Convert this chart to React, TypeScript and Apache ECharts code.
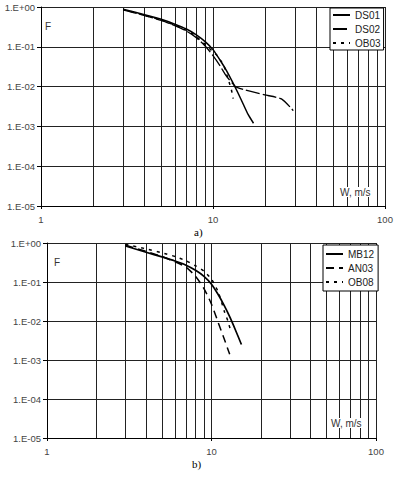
import React, { useEffect, useRef } from 'react';
import * as echarts from 'echarts';

// ---- Data ----
// Chart a)
const W_DS01 = [3, 4, 5, 6, 7, 8, 9, 10, 11, 12, 13, 14, 15, 16, 17.2];
const F_DS01 = [0.88, 0.64, 0.49, 0.37, 0.28, 0.2, 0.135, 0.085, 0.046, 0.025, 0.013, 0.0068, 0.0036, 0.002, 0.0012];

const W_DS02 = [3, 4, 5, 6, 7, 8, 9, 10, 11, 12, 13, 13.5, 15.4, 20, 25, 29.3];
const F_DS02 = [0.85, 0.61, 0.46, 0.34, 0.25, 0.17, 0.105, 0.06, 0.033, 0.018, 0.012, 0.01, 0.0082, 0.0062, 0.0049, 0.0025];

const W_OB03 = [3, 4, 5, 6, 7, 8, 9, 10, 10.5, 11.5, 12.3, 12.8, 13.1];
const F_OB03 = [0.87, 0.62, 0.47, 0.35, 0.26, 0.18, 0.115, 0.075, 0.062, 0.035, 0.0146, 0.0082, 0.005];

// Chart b)
const W_MB12 = [3, 4, 5, 6, 7, 8, 9, 10, 11, 12, 13, 14, 15.2];
const F_MB12 = [0.84, 0.58, 0.44, 0.345, 0.27, 0.2, 0.14, 0.088, 0.047, 0.024, 0.012, 0.0058, 0.0025];

const W_AN03 = [3, 4, 5, 6, 7, 8, 9, 10, 11, 12, 12.9];
const F_AN03 = [0.88, 0.61, 0.45, 0.33, 0.24, 0.14, 0.068, 0.027, 0.009, 0.0033, 0.0014];

const W_OB08 = [3, 4, 5, 6, 7, 8, 9, 10, 11, 12, 12.6, 13.1];
const F_OB08 = [0.92, 0.71, 0.56, 0.45, 0.35, 0.26, 0.19, 0.118, 0.055, 0.017, 0.0098, 0.0054];

const MINOR_X = [2, 3, 4, 5, 6, 7, 8, 9, 20, 30, 40, 50, 60, 70, 80, 90];
const LEGEND_A = ['DS01', 'DS02', 'OB03'];
const LEGEND_B = ['MB12', 'AN03', 'OB08'];
const X_TITLE = 'W, m/s';
const Y_TITLE = 'F';

const zip = (w: number[], f: number[]) => w.map((v, i) => [v, f[i]]);

const FONT = 'Liberation Sans';
const GRID_COLOR = '#222';

const yFmt = (v: number) => {
  const e = Math.round(Math.log10(v));
  return '1.E' + (e >= 0 ? '+' : '-') + String(Math.abs(e)).padStart(2, '0');
};

const makeX = (gi: number) => ({
  type: 'log',
  logBase: 10,
  min: 1,
  max: 100,
  gridIndex: gi,
  axisLine: { show: true, lineStyle: { color: '#000', width: 1 } },
  axisTick: { show: true, inside: false, length: 3, lineStyle: { color: '#000' } },
  axisLabel: { color: '#444', fontSize: 9.5, fontFamily: FONT, margin: 8 },
  splitLine: { show: true, lineStyle: { color: GRID_COLOR, width: 1 } },
  minorTick: { show: false },
});

const makeY = (gi: number, margin: number) => ({
  type: 'log',
  logBase: 10,
  min: 1e-5,
  max: 1,
  gridIndex: gi,
  axisLine: { show: true, lineStyle: { color: '#000', width: 1 } },
  axisTick: { show: true, inside: false, length: 4, lineStyle: { color: '#000' } },
  axisLabel: { color: '#444', fontSize: 9.5, fontFamily: FONT, margin, formatter: yFmt },
  splitLine: { show: true, lineStyle: { color: GRID_COLOR, width: 1 } },
});

const minorMarkLine = {
  silent: true,
  symbol: ['none', 'none'],
  label: { show: false },
  lineStyle: { type: 'solid', color: GRID_COLOR, width: 1 },
  data: MINOR_X.map((v) => ({ xAxis: v })),
};

const lineSeries = (
  name: string,
  data: number[][],
  gi: number,
  type: any,
  width: number,
  withGrid = false
) => ({
  name,
  type: 'line',
  xAxisIndex: gi,
  yAxisIndex: gi,
  data,
  showSymbol: false,
  symbol: 'none',
  smooth: 0.2,
  z: 5,
  lineStyle: { color: '#000', width, type },
  itemStyle: { color: '#000' },
  ...(withGrid ? { markLine: minorMarkLine } : {}),
});

const legendBase = {
  orient: 'vertical',
  itemWidth: 17,
  itemHeight: 10,
  itemGap: 4,
  itemTextGap: 2,
  borderColor: '#000',
  borderWidth: 1,
  backgroundColor: '#fff',
  borderRadius: 0,
  selectedMode: false,
  z: 10,
  itemStyle: { opacity: 0 },
  textStyle: { fontSize: 10, fontFamily: FONT, color: '#222' },
};

export default function App() {
  const ref = useRef<HTMLDivElement>(null);

  useEffect(() => {
    if (!ref.current) return;
    const chart = echarts.init(ref.current, undefined, { renderer: 'svg' });
    const option: any = {
      animation: false,
      backgroundColor: '#fff',
      grid: [
        { left: 41, top: 7, width: 344, height: 199, containLabel: false },
        { left: 47, top: 243, width: 329, height: 195, containLabel: false },
      ],
      xAxis: [makeX(0), makeX(1)],
      yAxis: [makeY(0, 6), makeY(1, 6)],
      legend: [
        { ...legendBase, data: LEGEND_A, left: 330, top: 8, padding: [2, 3, 2, 2] },
        { ...legendBase, data: LEGEND_B, left: 323, top: 245, padding: [4, 4, 4, 2] },
      ],
      series: [
        lineSeries('DS01', zip(W_DS01, F_DS01), 0, 'solid', 1.5, true),
        lineSeries('DS02', zip(W_DS02, F_DS02), 0, [14, 3], 1.3),
        lineSeries('OB03', zip(W_OB03, F_OB03), 0, [3, 5], 1.5),
        lineSeries('MB12', zip(W_MB12, F_MB12), 1, 'solid', 1.7, true),
        lineSeries('AN03', zip(W_AN03, F_AN03), 1, [8, 5], 1.5),
        lineSeries('OB08', zip(W_OB08, F_OB08), 1, [3, 5], 1.5),
      ],
      graphic: [
        { type: 'text', left: 45, top: 21, z: 20, style: { text: Y_TITLE, fontSize: 10, fontFamily: FONT, fill: '#333' } },
        { type: 'text', left: 340, top: 187, z: 20, style: { text: X_TITLE, fontSize: 10, fontFamily: FONT, fill: '#333', backgroundColor: '#fff' } },
        { type: 'text', left: 194, top: 226, z: 20, style: { text: 'a)', fontSize: 11, fontFamily: 'Liberation Serif', fill: '#000' } },
        { type: 'text', left: 54, top: 257, z: 20, style: { text: Y_TITLE, fontSize: 10, fontFamily: FONT, fill: '#333' } },
        { type: 'text', left: 331, top: 418, z: 20, style: { text: X_TITLE, fontSize: 10, fontFamily: FONT, fill: '#333', backgroundColor: '#fff' } },
        { type: 'text', left: 192, top: 458, z: 20, style: { text: 'b)', fontSize: 11, fontFamily: 'Liberation Serif', fill: '#000' } },
      ],
    };
    chart.setOption(option);
    return () => chart.dispose();
  }, []);

  return (
    <div
      ref={ref}
      style={{ position: 'absolute', left: 0, top: 0, width: 398, height: 477 }}
    />
  );
}
